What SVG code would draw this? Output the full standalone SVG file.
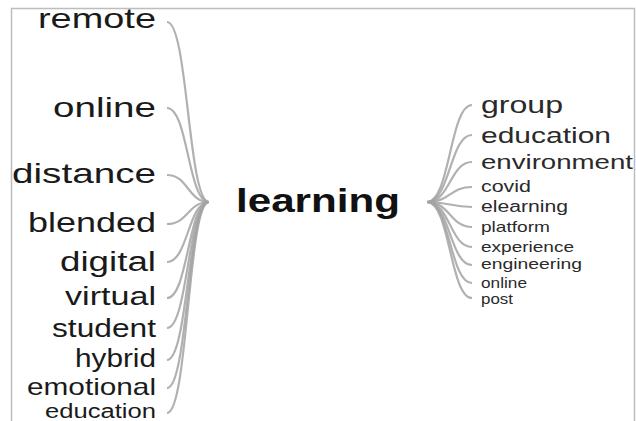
<svg xmlns="http://www.w3.org/2000/svg" width="636" height="421" viewBox="0 0 636 421">
<style>
.lbl{font-family:"Liberation Sans",Arial,sans-serif;fill:#1a1a1a}
.l{text-anchor:end}
.r{fill:#2a2a2a}
.c{font-weight:bold;fill:#111}
#links path{fill:none;stroke:#a3a3a3;stroke-width:2.2;stroke-opacity:0.85}
</style>
<rect x="0" y="0" width="636" height="421" fill="#fff"/>
<path d="M11.5,430 V8.5 H634.5 V430" fill="none" stroke="#bdbdbd" stroke-width="1.5"/>
<g id="links">
<path d="M167,22 C188,22 188,202 209,202"/>
<path d="M167,108 C188,108 188,202 209,202"/>
<path d="M167,175 C188,175 188,202 209,202"/>
<path d="M167,224 C188,224 188,202 209,202"/>
<path d="M167,262 C188,262 188,202 209,202"/>
<path d="M167,298 C188,298 188,202 209,202"/>
<path d="M167,328 C188,328 188,202 209,202"/>
<path d="M167,360 C188,360 188,202 209,202"/>
<path d="M167,388 C188,388 188,202 209,202"/>
<path d="M167,413 C188,413 188,202 209,202"/>
<path d="M427,202 C450,202 450,105 472,105"/>
<path d="M427,202 C450,202 450,135 472,135"/>
<path d="M427,202 C450,202 450,162 472,162"/>
<path d="M427,202 C450,202 450,187 472,187"/>
<path d="M427,202 C450,202 450,207 472,207"/>
<path d="M427,202 C450,202 450,227 472,227"/>
<path d="M427,202 C450,202 450,247 472,247"/>
<path d="M427,202 C450,202 450,265 472,265"/>
<path d="M427,202 C450,202 450,283 472,283"/>
<path d="M427,202 C450,202 450,298 472,298"/>
</g>
<g id="n-learning"><text class="lbl c" x="236" y="212" font-size="34" textLength="164" lengthAdjust="spacingAndGlyphs">learning</text></g>
<g id="n-remote"><text class="lbl l" x="156" y="28" font-size="28" textLength="118" lengthAdjust="spacingAndGlyphs">remote</text></g>
<g id="n-online-l"><text class="lbl l" x="156" y="117" font-size="27" textLength="103" lengthAdjust="spacingAndGlyphs">online</text></g>
<g id="n-distance"><text class="lbl l" x="156" y="183" font-size="28" textLength="144" lengthAdjust="spacingAndGlyphs">distance</text></g>
<g id="n-blended"><text class="lbl l" x="156" y="232" font-size="27" textLength="128" lengthAdjust="spacingAndGlyphs">blended</text></g>
<g id="n-digital"><text class="lbl l" x="156" y="271" font-size="27" textLength="96" lengthAdjust="spacingAndGlyphs">digital</text></g>
<g id="n-virtual"><text class="lbl l" x="156" y="305" font-size="26" textLength="91" lengthAdjust="spacingAndGlyphs">virtual</text></g>
<g id="n-student"><text class="lbl l" x="156" y="337" font-size="25" textLength="104" lengthAdjust="spacingAndGlyphs">student</text></g>
<g id="n-hybrid"><text class="lbl l" x="156" y="367" font-size="25" textLength="81" lengthAdjust="spacingAndGlyphs">hybrid</text></g>
<g id="n-emotional"><text class="lbl l" x="156" y="395" font-size="24" textLength="129" lengthAdjust="spacingAndGlyphs">emotional</text></g>
<g id="n-education-l"><text class="lbl l" x="156" y="418" font-size="20" textLength="111" lengthAdjust="spacingAndGlyphs">education</text></g>
<g id="n-group"><text class="lbl r" x="481" y="113" font-size="24" textLength="82" lengthAdjust="spacingAndGlyphs">group</text></g>
<g id="n-education-r"><text class="lbl r" x="481" y="143" font-size="22" textLength="130" lengthAdjust="spacingAndGlyphs">education</text></g>
<g id="n-environment"><text class="lbl r" x="481" y="169" font-size="21" textLength="152" lengthAdjust="spacingAndGlyphs">environment</text></g>
<g id="n-covid"><text class="lbl r" x="481" y="192" font-size="16" textLength="50" lengthAdjust="spacingAndGlyphs">covid</text></g>
<g id="n-elearning"><text class="lbl r" x="481" y="212" font-size="16" textLength="87" lengthAdjust="spacingAndGlyphs">elearning</text></g>
<g id="n-platform"><text class="lbl r" x="481" y="232" font-size="15" textLength="69" lengthAdjust="spacingAndGlyphs">platform</text></g>
<g id="n-experience"><text class="lbl r" x="481" y="252" font-size="15" textLength="93" lengthAdjust="spacingAndGlyphs">experience</text></g>
<g id="n-engineering"><text class="lbl r" x="481" y="269" font-size="15" textLength="101" lengthAdjust="spacingAndGlyphs">engineering</text></g>
<g id="n-online-r"><text class="lbl r" x="481" y="288" font-size="14" textLength="46" lengthAdjust="spacingAndGlyphs">online</text></g>
<g id="n-post"><text class="lbl r" x="481" y="304" font-size="14" textLength="32" lengthAdjust="spacingAndGlyphs">post</text></g>
</svg>
